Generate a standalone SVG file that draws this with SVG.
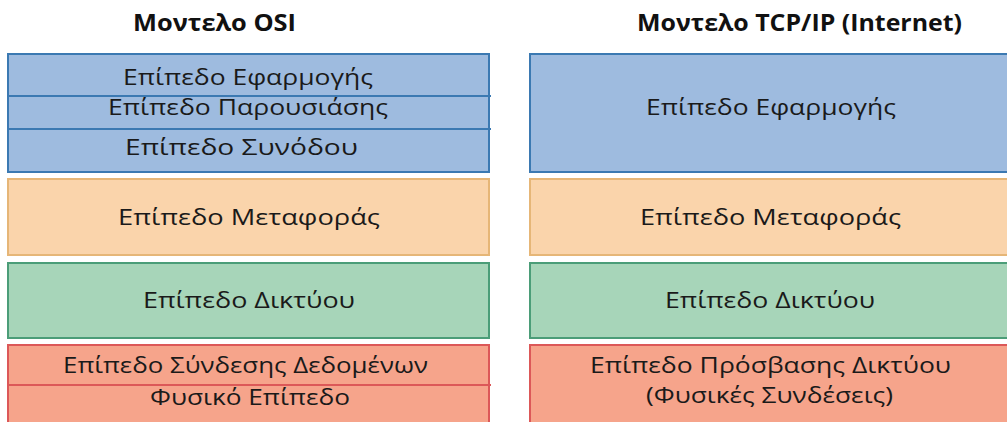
<svg xmlns="http://www.w3.org/2000/svg" width="1007" height="422" viewBox="0 0 1007 422">
<style>
.t{font-family:"Open Sans","Noto Sans","DejaVu Sans",sans-serif;font-size:21px;fill:#1a1a1a;text-anchor:middle}
.h{font-family:"Open Sans","Noto Sans","DejaVu Sans",sans-serif;font-size:23px;font-weight:bold;fill:#111;text-anchor:middle}
.blue{fill:#9ebbdf;stroke:#3b79b2;stroke-width:2}
.org{fill:#fad4ab;stroke:#e6b677;stroke-width:2}
.grn{fill:#a7d5b9;stroke:#4b9d78;stroke-width:2}
.red{fill:#f6a48b;stroke:#dc5858;stroke-width:2}
.dvb{stroke:#3b79b2;stroke-width:2}
.dvr{stroke:#dc5858;stroke-width:2}
</style>
<rect width="1007" height="422" fill="#ffffff"/>
<g id="titles">
<text class="h" x="214.5" y="31" textLength="163" lengthAdjust="spacingAndGlyphs">Μοντελο OSI</text>
<text class="h" x="799.5" y="31" textLength="325" lengthAdjust="spacingAndGlyphs">Μοντελο TCP/IP (Internet)</text>
</g>
<g id="osi-upper">
<rect class="blue" x="8" y="54" width="481" height="118"/>
<line class="dvb" x1="8" y1="96" x2="491" y2="96"/>
<line class="dvb" x1="8" y1="129" x2="491" y2="129"/>
<text class="t" x="248" y="85" textLength="250" lengthAdjust="spacingAndGlyphs">Επίπεδο Εφαρμογής</text>
<text class="t" x="248" y="115" textLength="280" lengthAdjust="spacingAndGlyphs">Επίπεδο Παρουσιάσης</text>
<text class="t" x="241.5" y="155" textLength="233" lengthAdjust="spacingAndGlyphs">Επίπεδο Συνόδου</text>
</g>
<g id="osi-transport">
<rect class="org" x="8" y="179" width="481" height="76"/>
<text class="t" x="249" y="225" textLength="262" lengthAdjust="spacingAndGlyphs">Επίπεδο Μεταφοράς</text>
</g>
<g id="osi-network">
<rect class="grn" x="8" y="263" width="481" height="75"/>
<text class="t" x="249" y="308" textLength="212" lengthAdjust="spacingAndGlyphs">Επίπεδο Δικτύου</text>
</g>
<g id="osi-lower">
<rect class="red" x="8" y="345" width="481" height="80"/>
<line class="dvr" x1="8" y1="385" x2="491" y2="385"/>
<text class="t" x="245.5" y="373" textLength="365" lengthAdjust="spacingAndGlyphs">Επίπεδο Σύνδεσης Δεδομένων</text>
<text class="t" x="250" y="405" textLength="200" lengthAdjust="spacingAndGlyphs">Φυσικό Επίπεδο</text>
</g>
<g id="tcp-application">
<rect class="blue" x="530" y="54" width="485" height="118"/>
<text class="t" x="771" y="115" textLength="250" lengthAdjust="spacingAndGlyphs">Επίπεδο Εφαρμογής</text>
</g>
<g id="tcp-transport">
<rect class="org" x="530" y="179" width="485" height="76"/>
<text class="t" x="770.5" y="225" textLength="261" lengthAdjust="spacingAndGlyphs">Επίπεδο Μεταφοράς</text>
</g>
<g id="tcp-network">
<rect class="grn" x="530" y="263" width="485" height="75"/>
<text class="t" x="770" y="308" textLength="210" lengthAdjust="spacingAndGlyphs">Επίπεδο Δικτύου</text>
</g>
<g id="tcp-access">
<rect class="red" x="530" y="345" width="485" height="80"/>
<text class="t" x="770.5" y="373" textLength="361" lengthAdjust="spacingAndGlyphs">Επίπεδο Πρόσβασης Δικτύου</text>
<text class="t" x="769.5" y="403" textLength="247" lengthAdjust="spacingAndGlyphs">(Φυσικές Συνδέσεις)</text>
</g>
<g id="connectors"></g>
</svg>
